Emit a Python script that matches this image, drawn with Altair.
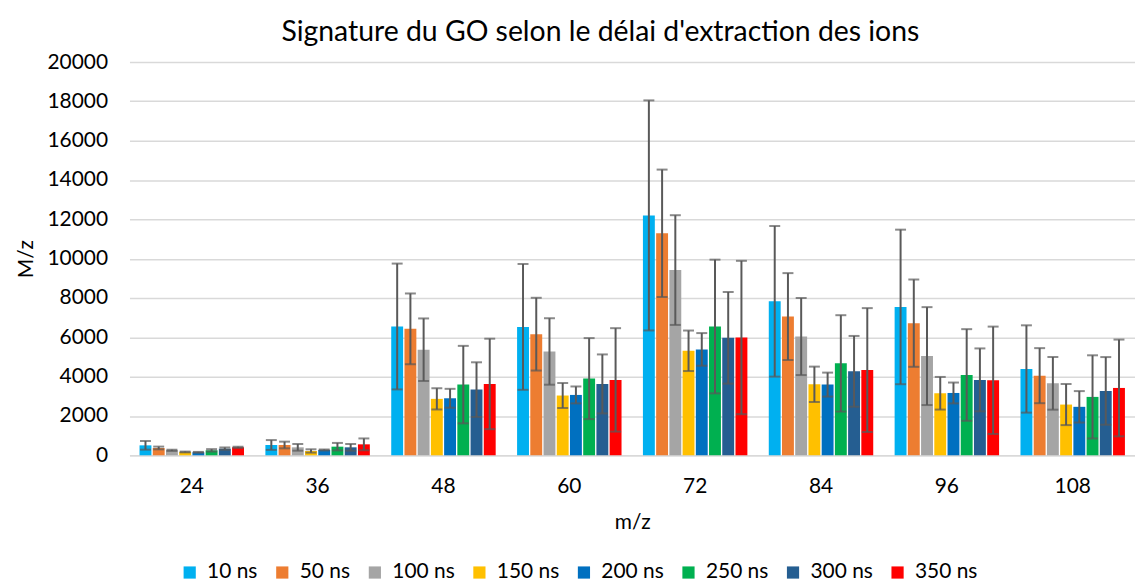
import altair as alt
import pandas as pd

mz = [24, 36, 48, 60, 72, 84, 96, 108]
series = ["10 ns", "50 ns", "100 ns", "150 ns", "200 ns", "250 ns", "300 ns", "350 ns"]
colors = ["#00B0F0", "#ED7D31", "#A5A5A5", "#FFC000", "#0070C0", "#00B050", "#255E91", "#FF0000"]
y_ticks = [0, 2000, 4000, 6000, 8000, 10000, 12000, 14000, 16000, 18000, 20000]

values = {
    "10 ns":  [506, 524, 6550, 6530, 12200, 7830, 7545, 4390],
    "50 ns":  [372, 524, 6430, 6160, 11290, 7055, 6720, 4050],
    "100 ns": [253, 405, 5370, 5280, 9420, 6040, 5045, 3660],
    "150 ns": [169, 220, 2870, 3040, 5315, 3610, 3155, 2580],
    "200 ns": [152, 270, 2900, 3070, 5385, 3595, 3170, 2465],
    "250 ns": [253, 439, 3595, 3900, 6550, 4675, 4085, 2970],
    "300 ns": [338, 405, 3340, 3630, 5975, 4270, 3835, 3275],
    "350 ns": [405, 557, 3630, 3835, 5990, 4335, 3815, 3425],
}
errors = {
    "10 ns":  [220, 250, 3200, 3200, 5850, 3830, 3930, 2220],
    "50 ns":  [70, 170, 1800, 1850, 3240, 2210, 2220, 1400],
    "100 ns": [30, 170, 1590, 1690, 2790, 1960, 2490, 1340],
    "150 ns": [20, 85, 540, 635, 1030, 900, 830, 1045],
    "200 ns": [20, 25, 480, 430, 830, 610, 530, 800],
    "250 ns": [60, 190, 1970, 2060, 3400, 2450, 2330, 2115],
    "300 ns": [60, 170, 1390, 1500, 2330, 1800, 1600, 1720],
    "350 ns": [30, 300, 2300, 2630, 3900, 3150, 2730, 2460],
}

rows = []
for s in series:
    for i, m in enumerate(mz):
        v = values[s][i]
        e = errors[s][i]
        rows.append({"mz": str(m), "delay": s, "value": v, "lo": v - e, "hi": v + e})
df = pd.DataFrame(rows)

mz_order = [str(m) for m in mz]
FONT = "Lato"

x_enc = alt.X("mz:N", sort=mz_order, title="m/z",
              scale=alt.Scale(paddingInner=0.17, paddingOuter=0.08))
xo_enc = alt.XOffset("delay:N", sort=series, scale=alt.Scale(paddingInner=0.1))
y_scale = alt.Scale(domain=[0, 20000], nice=False)
y_axis = alt.Axis(values=y_ticks, format="d", labelOverlap=False, tickCount=len(y_ticks))


def yenc(field):
    return alt.Y(field, type="quantitative", title="M/z", scale=y_scale, axis=y_axis)


base = alt.Chart(df).encode(x=x_enc, xOffset=xo_enc)

bars = base.mark_bar().encode(
    y=yenc("value"),
    color=alt.Color("delay:N", sort=series,
                    scale=alt.Scale(domain=series, range=colors),
                    legend=alt.Legend(title=None, orient="none", legendX=50, legendY=502,
                                      direction="horizontal",
                                      symbolType="square", symbolSize=150,
                                      symbolStrokeWidth=0, labelFontSize=21,
                                      labelFont=FONT, labelColor="black", columnPadding=14,
                                      labelOffset=7, columns=8)),
)

rules = base.mark_rule(color="#595959", strokeWidth=2).encode(
    y=yenc("lo"), y2="hi:Q")
cap_hi = base.mark_tick(color="#595959", thickness=2, size=11).encode(y=yenc("hi"))
cap_lo = base.mark_tick(color="#595959", thickness=2, size=11).encode(y=yenc("lo"))

chart = alt.layer(bars, rules, cap_hi, cap_lo).properties(
    width=1010, height=395,
    padding={"left": 8, "top": 8, "right": 0, "bottom": 0},
    title=alt.TitleParams("Signature du GO selon le délai d'extraction des ions",
                          fontSize=28.5, font=FONT, fontWeight="normal", color="black",
                          anchor="middle", frame="group", offset=5, dx=-32),
).configure_view(stroke=None).configure_axisY(
    grid=True, gridColor="#D9D9D9", gridWidth=1.5, domain=False, ticks=False,
    labelFont=FONT, labelFontSize=21, labelColor="black", labelPadding=22,
    labelOverlap=False,
    titleFont=FONT, titleFontSize=21, titleFontWeight="normal", titleColor="black",
    titlePadding=10,
).configure_axisX(
    grid=False, domain=True, domainColor="#D9D9D9", domainWidth=1.5, ticks=False,
    labelAngle=0, labelFont=FONT, labelFontSize=21, labelColor="black", labelPadding=20,
    titleFont=FONT, titleFontSize=21, titleFontWeight="normal", titleColor="black",
    titlePadding=16,
)

chart.save("out.html", embed_options={"renderer": "svg", "actions": False})
